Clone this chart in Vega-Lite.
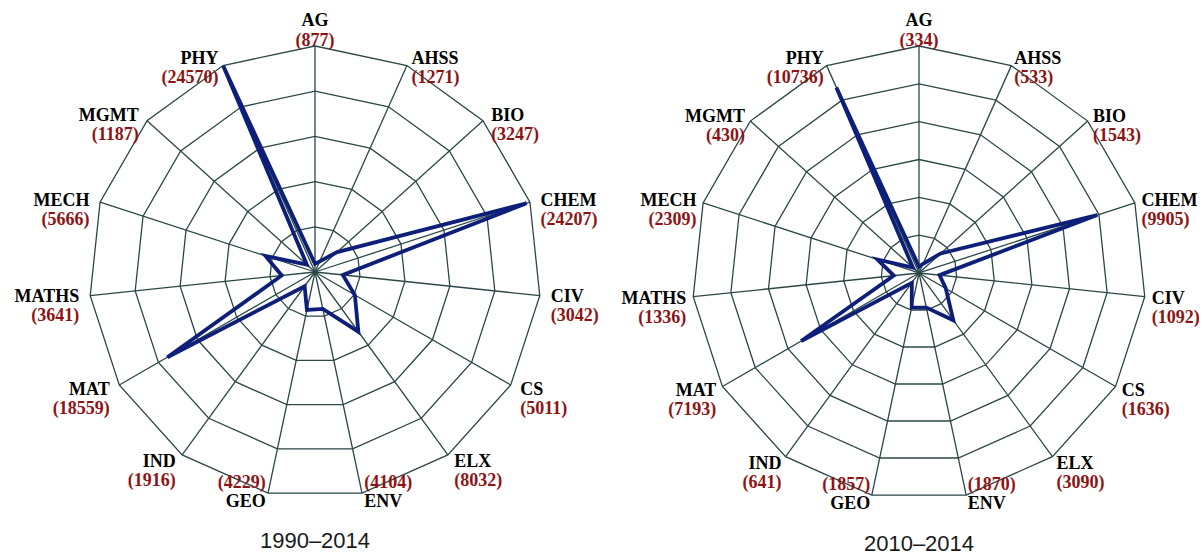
{
  "$schema": "https://vega.github.io/schema/vega-lite/v6.json",
  "background": "white",
  "padding": {"left": 14, "top": 0, "right": 0, "bottom": 0},
  "autosize": {"type": "pad"},
  "bounds": "flush",
  "spacing": 44,
  "config": {"view": {"stroke": null}},
  "datasets": {
    "p1990": [
      {"cat": "AG", "value": 877}, {"cat": "AHSS", "value": 1271}, {"cat": "BIO", "value": 3247},
      {"cat": "CHEM", "value": 24207}, {"cat": "CIV", "value": 3042}, {"cat": "CS", "value": 5011},
      {"cat": "ELX", "value": 8032}, {"cat": "ENV", "value": 4104}, {"cat": "GEO", "value": 4229},
      {"cat": "IND", "value": 1916}, {"cat": "MAT", "value": 18559}, {"cat": "MATHS", "value": 3641},
      {"cat": "MECH", "value": 5666}, {"cat": "MGMT", "value": 1187}, {"cat": "PHY", "value": 24570}
    ],
    "p2010": [
      {"cat": "AG", "value": 334}, {"cat": "AHSS", "value": 533}, {"cat": "BIO", "value": 1543},
      {"cat": "CHEM", "value": 9905}, {"cat": "CIV", "value": 1092}, {"cat": "CS", "value": 1636},
      {"cat": "ELX", "value": 3090}, {"cat": "ENV", "value": 1870}, {"cat": "GEO", "value": 1857},
      {"cat": "IND", "value": 641}, {"cat": "MAT", "value": 7193}, {"cat": "MATHS", "value": 1336},
      {"cat": "MECH", "value": 2309}, {"cat": "MGMT", "value": 430}, {"cat": "PHY", "value": 10736}
    ],
    "grid5": [
      {"level": 0.2, "spoke": [0,1,2,3,4,5,6,7,8,9,10,11,12,13,14]},
      {"level": 0.4, "spoke": [0,1,2,3,4,5,6,7,8,9,10,11,12,13,14]},
      {"level": 0.6, "spoke": [0,1,2,3,4,5,6,7,8,9,10,11,12,13,14]},
      {"level": 0.8, "spoke": [0,1,2,3,4,5,6,7,8,9,10,11,12,13,14]},
      {"level": 1.0, "spoke": [0,1,2,3,4,5,6,7,8,9,10,11,12,13,14]}
    ],
    "grid6": [
      {"level": 0.16667, "spoke": [0,1,2,3,4,5,6,7,8,9,10,11,12,13,14]},
      {"level": 0.33333, "spoke": [0,1,2,3,4,5,6,7,8,9,10,11,12,13,14]},
      {"level": 0.5, "spoke": [0,1,2,3,4,5,6,7,8,9,10,11,12,13,14]},
      {"level": 0.66667, "spoke": [0,1,2,3,4,5,6,7,8,9,10,11,12,13,14]},
      {"level": 0.83333, "spoke": [0,1,2,3,4,5,6,7,8,9,10,11,12,13,14]},
      {"level": 1.0, "spoke": [0,1,2,3,4,5,6,7,8,9,10,11,12,13,14]}
    ]
  },
  "hconcat": [
    {
      "width": 560,
      "height": 512,
      "title": {"text": "1990–2014", "orient": "bottom", "frame": "group", "anchor": "middle", "baseline": "middle", "offset": 29, "font": "Liberation Sans", "fontSize": 22, "fontWeight": "normal", "color": "#1a1a1a"},
      "layer": [
        {
          "data": {"name": "grid5"},
          "transform": [
            {"flatten": ["spoke"]},
            {"calculate": "datum.spoke * 2 * PI / 15", "as": "t"},
            {"calculate": "datum.level * sin(datum.t)", "as": "x"},
            {"calculate": "datum.level * cos(datum.t)", "as": "y"}
          ],
          "mark": {"type": "line", "interpolate": "linear-closed", "stroke": "#2b4747", "strokeWidth": 1.3},
          "encoding": {
            "x": {"field": "x", "type": "quantitative", "scale": {"domain": [-1.2389, 1.2389], "nice": false, "zero": false}, "axis": null},
            "y": {"field": "y", "type": "quantitative", "scale": {"domain": [-1.0619, 1.2035], "nice": false, "zero": false}, "axis": null},
            "detail": {"field": "level", "type": "nominal"},
            "order": {"field": "spoke", "type": "quantitative"}
          }
        },
        {
          "data": {"name": "p1990"},
          "transform": [
            {"window": [{"op": "row_number", "as": "rn"}], "sort": [{"field": "cat", "order": "ascending"}]},
            {"calculate": "(datum.rn - 1) * 2 * PI / 15", "as": "t"},
            {"calculate": "sin(datum.t)", "as": "x"},
            {"calculate": "cos(datum.t)", "as": "y"}
          ],
          "mark": {"type": "rule", "stroke": "#2b4747", "strokeWidth": 1.3},
          "encoding": {
            "x": {"field": "x", "type": "quantitative"},
            "y": {"field": "y", "type": "quantitative"},
            "x2": {"datum": 0},
            "y2": {"datum": 0}
          }
        },
        {
          "data": {"name": "p1990"},
          "transform": [
            {"window": [{"op": "row_number", "as": "rn"}], "sort": [{"field": "cat", "order": "ascending"}]},
            {"calculate": "(datum.rn - 1) * 2 * PI / 15", "as": "t"},
            {"calculate": "datum.value / 24600 * sin(datum.t)", "as": "x"},
            {"calculate": "datum.value / 24600 * cos(datum.t)", "as": "y"}
          ],
          "mark": {"type": "line", "interpolate": "linear-closed", "stroke": "#0d1f78", "strokeWidth": 3.8, "strokeJoin": "miter"},
          "encoding": {
            "x": {"field": "x", "type": "quantitative"},
            "y": {"field": "y", "type": "quantitative"},
            "order": {"field": "rn", "type": "quantitative"}
          }
        },
        {
          "data": {"name": "p1990"},
          "transform": [
            {"window": [{"op": "row_number", "as": "rn"}], "sort": [{"field": "cat", "order": "ascending"}]},
            {"calculate": "(datum.rn - 1) * 2 * PI / 15", "as": "t"},
            {"calculate": "sin(datum.t)", "as": "s"},
            {"calculate": "cos(datum.t)", "as": "c"},
            {"calculate": "datum.s + 11 * datum.s / 226", "as": "lx"},
            {"calculate": "(abs(datum.s) < 0.1 && datum.c > 0) ? -25 : (datum.c < -0.9 ? 9 : 1 - 8 * datum.c)", "as": "ndy"},
            {"calculate": "(abs(datum.s) < 0.1 && datum.c > 0) ? -5 : (datum.c < -0.9 ? -10 : datum.ndy + 19)", "as": "vdy"},
            {"calculate": "datum.c - datum.ndy / 226", "as": "ny"},
            {"calculate": "datum.c - datum.vdy / 226", "as": "vy"},
            {"calculate": "'(' + datum.value + ')'", "as": "vlabel"}
          ],
          "layer": [
            {
              "mark": {"type": "text", "font": "Liberation Serif", "fontWeight": "bold", "fontSize": 18, "baseline": "middle", "color": "#000000", "align": {"expr": "datum.s > 0.1 ? 'left' : (datum.s < -0.1 ? 'right' : 'center')"}},
              "encoding": {
                "x": {"field": "lx", "type": "quantitative"},
                "y": {"field": "ny", "type": "quantitative"},
                "text": {"field": "cat"}
              }
            },
            {
              "mark": {"type": "text", "font": "Liberation Serif", "fontWeight": "bold", "fontSize": 18, "baseline": "middle", "color": "#8e1414", "align": {"expr": "datum.s > 0.1 ? 'left' : (datum.s < -0.1 ? 'right' : 'center')"}},
              "encoding": {
                "x": {"field": "lx", "type": "quantitative"},
                "y": {"field": "vy", "type": "quantitative"},
                "text": {"field": "vlabel"}
              }
            }
          ]
        }
      ]
    },
    {
      "width": 560,
      "height": 512,
      "title": {"text": "2010–2014", "orient": "bottom", "frame": "group", "anchor": "middle", "baseline": "middle", "offset": 31, "font": "Liberation Sans", "fontSize": 22, "fontWeight": "normal", "color": "#1a1a1a"},
      "layer": [
        {
          "data": {"name": "grid6"},
          "transform": [
            {"flatten": ["spoke"]},
            {"calculate": "datum.spoke * 2 * PI / 15", "as": "t"},
            {"calculate": "datum.level * sin(datum.t)", "as": "x"},
            {"calculate": "datum.level * cos(datum.t)", "as": "y"}
          ],
          "mark": {"type": "line", "interpolate": "linear-closed", "stroke": "#2b4747", "strokeWidth": 1.3},
          "encoding": {
            "x": {"field": "x", "type": "quantitative", "scale": {"domain": [-1.2335, 1.2335], "nice": false, "zero": false}, "axis": null},
            "y": {"field": "y", "type": "quantitative", "scale": {"domain": [-1.0529, 1.2026], "nice": false, "zero": false}, "axis": null},
            "detail": {"field": "level", "type": "nominal"},
            "order": {"field": "spoke", "type": "quantitative"}
          }
        },
        {
          "data": {"name": "p2010"},
          "transform": [
            {"window": [{"op": "row_number", "as": "rn"}], "sort": [{"field": "cat", "order": "ascending"}]},
            {"calculate": "(datum.rn - 1) * 2 * PI / 15", "as": "t"},
            {"calculate": "sin(datum.t)", "as": "x"},
            {"calculate": "cos(datum.t)", "as": "y"}
          ],
          "mark": {"type": "rule", "stroke": "#2b4747", "strokeWidth": 1.3},
          "encoding": {
            "x": {"field": "x", "type": "quantitative"},
            "y": {"field": "y", "type": "quantitative"},
            "x2": {"datum": 0},
            "y2": {"datum": 0}
          }
        },
        {
          "data": {"name": "p2010"},
          "transform": [
            {"window": [{"op": "row_number", "as": "rn"}], "sort": [{"field": "cat", "order": "ascending"}]},
            {"calculate": "(datum.rn - 1) * 2 * PI / 15", "as": "t"},
            {"calculate": "datum.value / 12000 * sin(datum.t)", "as": "x"},
            {"calculate": "datum.value / 12000 * cos(datum.t)", "as": "y"}
          ],
          "mark": {"type": "line", "interpolate": "linear-closed", "stroke": "#0d1f78", "strokeWidth": 3.8, "strokeJoin": "miter"},
          "encoding": {
            "x": {"field": "x", "type": "quantitative"},
            "y": {"field": "y", "type": "quantitative"},
            "order": {"field": "rn", "type": "quantitative"}
          }
        },
        {
          "data": {"name": "p2010"},
          "transform": [
            {"window": [{"op": "row_number", "as": "rn"}], "sort": [{"field": "cat", "order": "ascending"}]},
            {"calculate": "(datum.rn - 1) * 2 * PI / 15", "as": "t"},
            {"calculate": "sin(datum.t)", "as": "s"},
            {"calculate": "cos(datum.t)", "as": "c"},
            {"calculate": "datum.s + 7 * datum.s / 227", "as": "lx"},
            {"calculate": "(abs(datum.s) < 0.1 && datum.c > 0) ? -25 : (datum.c < -0.9 ? 9 : 1 - 8 * datum.c)", "as": "ndy"},
            {"calculate": "(abs(datum.s) < 0.1 && datum.c > 0) ? -5 : (datum.c < -0.9 ? -10 : datum.ndy + 19)", "as": "vdy"},
            {"calculate": "datum.c - datum.ndy / 227", "as": "ny"},
            {"calculate": "datum.c - datum.vdy / 227", "as": "vy"},
            {"calculate": "'(' + datum.value + ')'", "as": "vlabel"}
          ],
          "layer": [
            {
              "mark": {"type": "text", "font": "Liberation Serif", "fontWeight": "bold", "fontSize": 18, "baseline": "middle", "color": "#000000", "align": {"expr": "datum.s > 0.1 ? 'left' : (datum.s < -0.1 ? 'right' : 'center')"}},
              "encoding": {
                "x": {"field": "lx", "type": "quantitative"},
                "y": {"field": "ny", "type": "quantitative"},
                "text": {"field": "cat"}
              }
            },
            {
              "mark": {"type": "text", "font": "Liberation Serif", "fontWeight": "bold", "fontSize": 18, "baseline": "middle", "color": "#8e1414", "align": {"expr": "datum.s > 0.1 ? 'left' : (datum.s < -0.1 ? 'right' : 'center')"}},
              "encoding": {
                "x": {"field": "lx", "type": "quantitative"},
                "y": {"field": "vy", "type": "quantitative"},
                "text": {"field": "vlabel"}
              }
            }
          ]
        }
      ]
    }
  ]
}
